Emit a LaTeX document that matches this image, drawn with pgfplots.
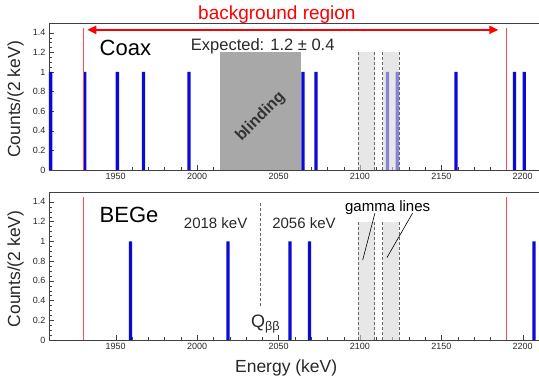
\documentclass[border=0pt]{standalone}
\usepackage{pgfplots}
\pgfplotsset{compat=1.18}
\usepackage{fontspec}
\setmainfont{Liberation Sans}
\usetikzlibrary{arrows.meta}

\definecolor{barblue}{RGB}{10,10,210}
\definecolor{txt}{RGB}{40,40,40}
\definecolor{blindgray}{RGB}{168,168,168}
\definecolor{gamgray}{RGB}{215,215,215}

\pgfplotsset{panel/.style={
 scale only axis, width=490pt,
 xmin=1909, xmax=2210, ymin=0, ymax=1.5,
 axis x line=box, axis y line=left, axis line style={-, black!75},
 xtick={1950,2000,2050,2100,2150,2200},
 ytick={0,0.2,0.4,0.6,0.8,1,1.2,1.4},
 minor x tick num=4, minor y tick num=3,
 xtick pos=bottom, ytick pos=left, tick align=inside,
 major tick length=5pt, minor tick length=3pt,
 tick style={black!75},
 ticklabel style={font=\fontsize{9}{10}\selectfont, text=txt},
 /pgf/number format/assume math mode=true,
 /pgf/number format/set thousands separator={},
 ylabel={Counts/(2 keV)},
 ylabel style={at={(axis description cs:-0.068,0.48)}, anchor=center, font=\fontsize{17.5}{20}\selectfont, text=txt},
 clip=false,
}}

\begin{document}
\begin{tikzpicture}

% ---------------- Coax ----------------
\begin{axis}[panel, at={(49pt,209pt)}, anchor=south west, height=147pt]
\addplot[fill=blindgray, draw=none] coordinates {(2014,1.2) (2064,1.2)} \closedcycle;
\addplot[ybar, bar width=2, bar shift=0pt, fill=barblue, draw=none] coordinates {
(1910,1) (1931,1) (1951,1) (1967,1) (1995,1) (2065,1) (2073,1) (2117,1) (2123,1) (2159,1) (2195,1) (2201,1)};
\addplot[fill=gamgray, fill opacity=0.6, draw=none] coordinates {(2099,1.2) (2109,1.2)} \closedcycle;
\addplot[fill=gamgray, fill opacity=0.6, draw=none] coordinates {(2114,1.2) (2124,1.2)} \closedcycle;
\addplot[densely dashed, black!60, line width=0.6pt] coordinates {(2099,0) (2099,1.2)};
\addplot[densely dashed, black!60, line width=0.6pt] coordinates {(2109,0) (2109,1.2)};
\addplot[densely dashed, black!60, line width=0.6pt] coordinates {(2114,0) (2114,1.2)};
\addplot[densely dashed, black!60, line width=0.6pt] coordinates {(2124,0) (2124,1.2)};
\addplot[red!70, line width=1pt] coordinates {(1930,0) (1930,1.45)};
\addplot[red!70, line width=1pt] coordinates {(2190,0) (2190,1.45)};
\draw[red, line width=2pt, {Triangle[length=9pt,width=8pt]}-{Triangle[length=9pt,width=8pt]}] (axis cs:1932.5,1.43) -- (axis cs:2185,1.43);
\node[text=red, font=\fontsize{19}{21}\selectfont] at (axis cs:2049,1.59) {background region};
\node[anchor=base west, font=\fontsize{22}{24}\selectfont] at (axis cs:1938,1.17) {Coax};
\node[anchor=base west, text=txt, font=\fontsize{16.5}{18}\selectfont] at (axis cs:1994,1.224) {Expected: 1.2 ± 0.4};
\node[rotate=45, text=black!80, font=\bfseries\fontsize{16}{18}\selectfont] at (axis cs:2039,0.54) {blinding};
\end{axis}

% ---------------- BEGe ----------------
\begin{axis}[panel, at={(49pt,39pt)}, anchor=south west, height=148pt,
 xlabel={Energy (keV)},
 xlabel style={at={(axis description cs:0.484,-0.19)}, anchor=center, font=\fontsize{17.5}{20}\selectfont, text=txt}]
\addplot[ybar, bar width=2, bar shift=0pt, fill=barblue, draw=none] coordinates {
(1959,1) (2019,1) (2057,1) (2069,1) (2207,1)};
\addplot[fill=gamgray, fill opacity=0.6, draw=none] coordinates {(2099,1.2) (2109,1.2)} \closedcycle;
\addplot[fill=gamgray, fill opacity=0.6, draw=none] coordinates {(2114,1.2) (2124,1.2)} \closedcycle;
\addplot[densely dashed, black!60, line width=0.6pt] coordinates {(2099,0) (2099,1.2)};
\addplot[densely dashed, black!60, line width=0.6pt] coordinates {(2109,0) (2109,1.2)};
\addplot[densely dashed, black!60, line width=0.6pt] coordinates {(2114,0) (2114,1.2)};
\addplot[densely dashed, black!60, line width=0.6pt] coordinates {(2124,0) (2124,1.2)};
\addplot[densely dashed, black!60, line width=0.6pt] coordinates {(2039,0.34) (2039,1.4)};
\addplot[red!70, line width=1pt] coordinates {(1930,0) (1930,1.45)};
\addplot[red!70, line width=1pt] coordinates {(2190,0) (2190,1.45)};
\node[anchor=base west, font=\fontsize{22}{24}\selectfont] at (axis cs:1938,1.19) {BEGe};
\node[anchor=base east, text=txt, font=\fontsize{15}{17}\selectfont] at (axis cs:2033,1.135) {2018 keV};
\node[anchor=base west, text=txt, font=\fontsize{15}{17}\selectfont] at (axis cs:2044,1.135) {2056 keV};
\node[anchor=base west, text=txt, font=\fontsize{18}{20}\selectfont] at (axis cs:2031,0.13) {Q\textsubscript{ββ}};
\node[anchor=base, font=\fontsize{15}{17}\selectfont] at (axis cs:2117,1.30) {gamma lines};
\draw[black, line width=0.6pt] (axis cs:2109.2,1.285) -- (axis cs:2101.7,0.81);
\draw[black, line width=0.6pt] (axis cs:2132.3,1.285) -- (axis cs:2116.6,0.835);
\end{axis}

\pgfresetboundingbox
\path[use as bounding box] (0,0) rectangle (539pt,379pt);
\end{tikzpicture}
\end{document}
